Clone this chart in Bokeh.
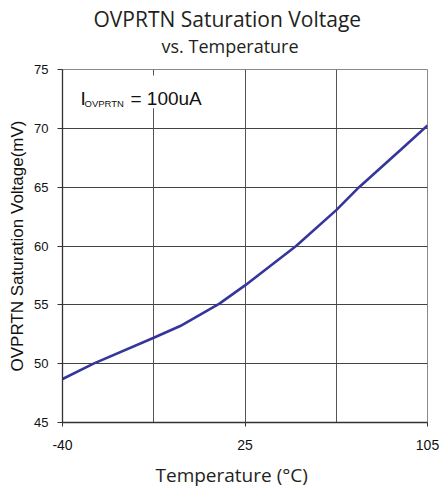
from bokeh.plotting import figure
from bokeh.models import Title, Label, BoxAnnotation, FixedTicker, Range1d
from bokeh.embed import file_html
from bokeh.resources import INLINE

# x positions on the category-style axis (0 = -40 C, 2 = 25 C, 4 = 105 C)
x_pos = [0.0, 0.34, 1.0, 1.29, 1.72, 2.0, 2.56, 3.0, 3.25, 3.71, 4.0]
voltage_mv = [48.7, 50.0, 52.2, 53.2, 55.1, 56.65, 60.0, 63.05, 65.0, 68.2, 70.25]

x_tick_pos = [0, 2, 4]
x_tick_labels = ["-40", "25", "105"]
x_grid_pos = [1, 2, 3, 4]
y_ticks = [45, 50, 55, 60, 65, 70, 75]

p = figure(width=440, height=498, output_backend="svg", toolbar_location=None,
           title=None, x_range=Range1d(0, 4), y_range=Range1d(45, 75),
           min_border_left=62, min_border_right=13, min_border_top=69,
           min_border_bottom=76)
p.background_fill_color = "white"
p.border_fill_color = "white"
p.outline_line_color = "#8a8a8a"
p.outline_line_width = 1

p.line(x_pos, voltage_mv, line_color="#35359c", line_width=2.6)

# axes
p.xaxis.ticker = FixedTicker(ticks=x_tick_pos)
p.xaxis.major_label_overrides = {t: l for t, l in zip(x_tick_pos, x_tick_labels)}
p.yaxis.ticker = FixedTicker(ticks=y_ticks)
for ax in (p.xaxis[0], p.yaxis[0]):
    ax.axis_line_color = "#333333"
    ax.axis_line_width = 1.3
    ax.major_tick_line_color = "#333333"
    ax.major_tick_in = 0
    ax.minor_tick_line_color = None
    ax.major_label_text_font = "Liberation Sans"
    ax.major_label_text_color = "#111111"
p.xaxis.major_tick_out = 4
p.xaxis.major_label_standoff = 13
p.xaxis.major_label_text_font_size = "14px"
p.yaxis.major_tick_out = 5
p.yaxis.major_label_standoff = 9
p.yaxis.major_label_text_font_size = "13px"

p.yaxis.axis_label = "OVPRTN Saturation Voltage(mV)"
p.yaxis.axis_label_text_font = "Liberation Sans"
p.yaxis.axis_label_text_font_style = "normal"
p.yaxis.axis_label_text_font_size = "17px"
p.yaxis.axis_label_text_color = "#111111"
p.yaxis.axis_label_standoff = 4

# grid
p.xgrid.ticker = FixedTicker(ticks=x_grid_pos)
p.xgrid.grid_line_color = "#555555"
p.xgrid.grid_line_width = 1
p.ygrid.ticker = FixedTicker(ticks=y_ticks[1:-1])
p.ygrid.grid_line_color = "#444444"
p.ygrid.grid_line_width = 1

# annotation box
p.add_layout(BoxAnnotation(left=0.03, right=1.95, top=74.5, bottom=71.7,
                           fill_color="white", fill_alpha=1.0, line_color=None))
p.add_layout(Label(x=0.197, y=72.54, text="I", text_font="Liberation Sans",
                   text_font_size="19px", text_baseline="alphabetic", text_color="#111111"))
p.add_layout(Label(x=0.241, y=72.11, text="OVPRTN", text_font="Liberation Sans",
                   text_font_size="9.5px", text_baseline="alphabetic", text_color="#111111"))
p.add_layout(Label(x=0.745, y=72.54, text="= 100uA", text_font="Liberation Sans",
                   text_font_size="19px", text_baseline="alphabetic", text_color="#111111"))

# titles
p.add_layout(Title(text="vs. Temperature", text_font="Open Sans", text_font_size="18px",
                   text_font_style="normal", text_color="#231f20", align="left",
                   offset=99, standoff=23), "above")
p.add_layout(Title(text="OVPRTN Saturation Voltage", text_font="Open Sans",
                   text_font_size="21px", text_font_style="normal", text_color="#231f20",
                   align="left", offset=31, standoff=-25), "above")

# x axis title
p.add_layout(Title(text="Temperature (°C)", text_font="Open Sans", text_font_size="19px",
                   text_font_style="normal", text_color="#231f20", align="left",
                   offset=93, standoff=15), "below")

open("out.html", "w").write(file_html(p, INLINE))
